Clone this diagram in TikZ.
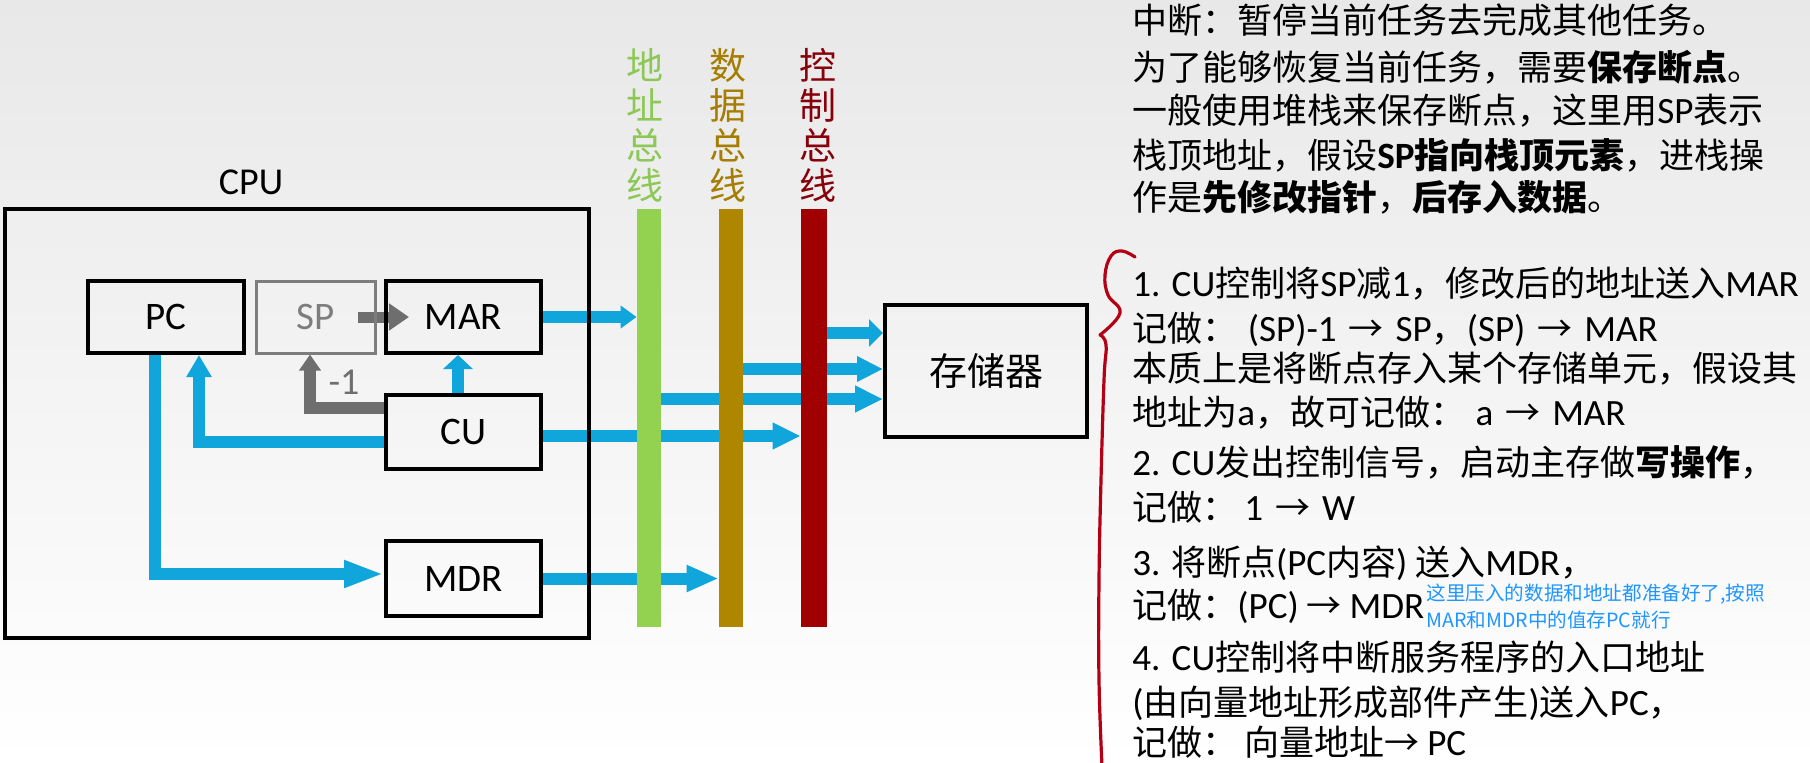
\documentclass[tikz,border=0pt]{standalone}
\usepackage{fontspec}
\setmainfont{Carlito}
\newfontfamily\cjk{Noto Sans CJK SC}
\newfontfamily\latn[Scale=1.06]{Carlito}
\newcommand\tarr{\hspace{0.34em}→\hspace{0.34em}}
\usetikzlibrary{arrows.meta}
\definecolor{myblue}{RGB}{16,166,220}
\definecolor{mygray}{RGB}{110,110,110}
\definecolor{spgray}{RGB}{125,125,125}
\definecolor{busgreen}{RGB}{146,210,80}
\definecolor{busbrown}{RGB}{174,134,0}
\definecolor{busred}{RGB}{160,0,0}
\definecolor{lgreen}{RGB}{140,200,85}
\definecolor{lbrown}{RGB}{165,125,0}
\definecolor{lred}{RGB}{135,0,10}
\definecolor{bracered}{RGB}{180,0,20}
\definecolor{noteblue}{RGB}{30,150,255}
\pgfdeclarelayer{bg}
\pgfdeclarelayer{arr}
\pgfsetlayers{bg,arr,main}
\begin{document}
\begin{tikzpicture}[x=0.5pt,y=-0.5pt,
  reg/.style={draw=black, line width=2pt, minimum height=36pt, inner sep=0pt,
    font=\fontsize{19.5}{22}\selectfont},
  bar/.style={inner sep=0pt, minimum height=209pt, draw=none},
  buslabel/.style={font=\cjk\fontsize{18.5}{20}\selectfont, align=center, inner sep=0pt},
  txt/.style={anchor=base west, inner sep=0pt, font=\cjk\fontsize{17.5}{22}\selectfont},
  note/.style={anchor=base west, inner sep=0pt, text=noteblue, font=\cjk\fontsize{9.8}{12}\selectfont},
  bluearr/.style 2 args={draw=myblue, line width=6pt, -{Triangle[length=#1,width=#2]}},
  grayarr/.style n args={3}{draw=mygray, line width=#1, -{Triangle[length=#2,width=#3]}},
  brace/.style={draw=bracered, line width=1.6pt, line cap=round, line join=round}
]
\useasboundingbox (0,0) rectangle (1810,762);
\begin{pgfonlayer}{bg}
\shade[top color=black!9, bottom color=white] (0,0) rectangle (1810,762);
\end{pgfonlayer}

% CPU and registers
\node[draw=black, line width=1.75pt, minimum width=292pt, minimum height=214.5pt, inner sep=0pt] (CPU) at (297,423.5) {};
\node[font=\fontsize{19}{22}\selectfont, inner sep=0pt] (cpulabel) at (251,182) {CPU};
\node[reg, minimum width=78pt] (PC) at (166,317) {PC};
\node[reg, draw=spgray, line width=1.5pt, text=spgray, minimum width=59.5pt] (SP) at (315.5,317) {SP};
\node[reg, minimum width=77.5pt] (MAR) at (463.5,317) {MAR};
\node[reg, minimum width=77.5pt, minimum height=37pt] (CU) at (463.5,432) {CU};
\node[reg, minimum width=77.5pt, minimum height=37.5pt] (MDR) at (463.5,578.5) {MDR};
\node[text=mygray, font=\fontsize{19}{22}\selectfont, inner sep=0pt] (minus) at (344,382) {-1};

% memory
\node[reg, minimum width=101pt, minimum height=66pt, font=\cjk\fontsize{19}{22}\selectfont] (mem) at (986,371) {存储器};

% buses
\node[bar, fill=busgreen, minimum width=12pt] (addr) at (649,418) {};
\node[bar, fill=busbrown, minimum width=12pt] (data) at (731,418) {};
\node[bar, fill=busred, minimum width=13pt] (ctrl) at (814,418) {};
\node[buslabel, text=lgreen] (addrlabel) at (645,125) {地\\址\\总\\线};
\node[buslabel, text=lbrown] (datalabel) at (728,125) {数\\据\\总\\线};
\node[buslabel, text=lred] (ctrllabel) at (818,125) {控\\制\\总\\线};

% connectors
\begin{pgfonlayer}{arr}
\draw[bluearr={8pt}{11pt}] (MAR.east) -- (MAR.east -| addr.west);
\draw[bluearr={14pt}{12.5pt}] (CU.east |- 0,436) -- (ctrl.west |- 0,436);
\draw[bluearr={16pt}{12.5pt}] (MDR.east) -- (MDR.east -| data.west);
\draw[bluearr={14pt}{12.5pt}] (addr.east |- 0,399) -- (mem.west |- 0,399);
\draw[bluearr={13pt}{12pt}] (data.east |- 0,369) -- (mem.west |- 0,369);
\draw[bluearr={7pt}{13.5pt}] (ctrl.east |- 0,333) -- (mem.west |- 0,333);
\draw[bluearr={7pt}{14.5pt}] (CU.north -| 458,0) -- (MAR.south -| 458,0);
\draw[bluearr={11pt}{12pt}] (CU.west |- 0,442) -| (PC.south -| 199,0);
\draw[bluearr={20pt}{12.5pt}] (PC.south -| 155,0) |- (MDR.west |- 0,574);
\draw[grayarr={5.5pt}{10pt}{13pt}] ([xshift=-9.5pt]SP.east) -- ([xshift=12.5pt]MAR.west);
\draw[grayarr={6pt}{8pt}{10.5pt}] (CU.west |- 0,408) -| (SP.south -| 310,0);
\end{pgfonlayer}

% brace
\draw[brace] plot[smooth, tension=0.7] coordinates {(1135,257) (1122,251) (1111,256) (1105,275) (1108,295) (1120,313) (1100,335)};
\draw[brace] plot[smooth, tension=0.7] coordinates {(1100,335) (1106,345) (1104,380) (1101,480) (1099,580) (1099,680) (1102,766)};

% text
\node[txt] (u1) at (1132,33) {中断：暂停当前任务去完成其他任务。};
\node[txt] (u2) at (1132,80) {为了能够恢复当前任务，需要\textbf{保存断点}。};
\node[txt] (u3) at (1132,123) {一般使用堆栈来保存断点，这里用{\latn SP}表示};
\node[txt] (u4) at (1132,168) {栈顶地址，假设\textbf{{\latn SP}指向栈顶元素}，进栈操};
\node[txt] (u5) at (1132,210) {作是\textbf{先修改指针}，\textbf{后存入数据}。};

\node[txt] (l1) at (1132,296) {{\latn 1. CU}控制将{\latn SP}减{\latn 1}，修改后的地址送入{\latn MAR}};
\node[txt] (l2) at (1132,341) {记做：\hspace{0.3em}{\latn (SP)-1}\tarr{\latn SP}，{\latn (SP)}\tarr{\latn MAR}};
\node[txt] (l3) at (1132,381) {本质上是将断点存入某个存储单元，假设其};
\node[txt] (l4) at (1132,425) {地址为{\latn a}，故可记做：\hspace{0.3em}{\latn a}\tarr{\latn MAR}};
\node[txt] (l5) at (1132,475) {{\latn 2. CU}发出控制信号，启动主存做\textbf{写操作}，};
\node[txt] (l6) at (1132,520) {记做：\hspace{0.2em}{\latn 1}\tarr{\latn W}};
\node[txt] (l7) at (1132,575) {{\latn 3.} 将断点{\latn (PC}内容{\latn )} 送入{\latn MDR}，};
\node[txt] (l8) at (1132,618) {记做：{\latn (PC)} → {\latn MDR}};
\node[txt] (l9) at (1132,670) {{\latn 4. CU}控制将中断服务程序的入口地址};
\node[txt] (l10) at (1132,715) {{\latn (}由向量地址形成部件产生{\latn )}送入{\latn PC}，};
\node[txt] (l11) at (1132,755) {记做：\hspace{0.2em}向量地址→ {\latn PC}};

\node[note] (n1) at (1426,600) {这里压入的数据和地址都准备好了,按照};
\node[note] (n2) at (1426,627) {MAR和MDR中的值存PC就行};
\end{tikzpicture}
\end{document}
